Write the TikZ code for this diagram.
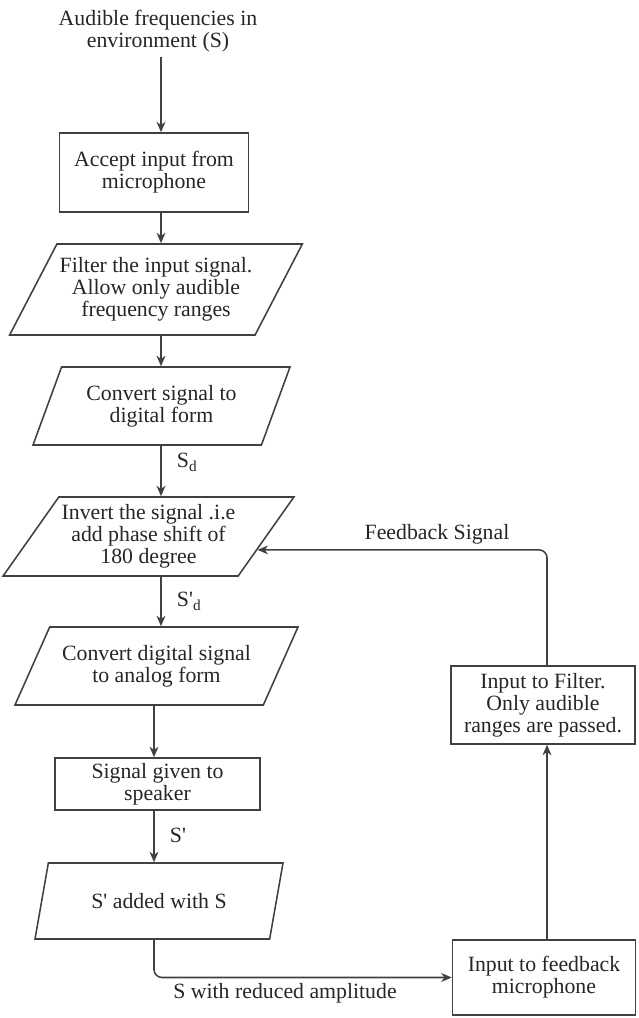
\documentclass[tikz,border=0pt]{standalone}
\usepackage{fontspec}
\setmainfont{Liberation Serif}
\usetikzlibrary{shapes.geometric,arrows.meta}

\begin{document}
\begin{tikzpicture}[x=0.025cm, y=-0.025cm,
  every node/.style={font=\fontsize{15.5}{15.6}\selectfont, text=black!85, align=center},
  flow/.style={draw=black!75, line width=1.1pt, rounded corners=8*0.025cm,
    -{Stealth[length=2.6mm, width=2.2mm, inset=0.8mm]}},
  procbox/.style={draw=black!75, line width=1.1pt, rectangle, inner sep=2pt},
  databox/.style={draw=black!75, line width=1.1pt, trapezium, trapezium stretches body=true, inner sep=2pt},
  sig/.style={anchor=west, inner sep=0pt, xshift=0.38cm}]
% pixel size of the picture
\def\px{0.025cm}
\useasboundingbox (0,0) rectangle (638,1018);

% main column
\node (env) at (158,31) {Audible frequencies in\\environment (S)};
\node[procbox, minimum width=189*\px, minimum height=79*\px] (accept) at (154,172.5) {Accept input from\\microphone};
\node[databox, trapezium left angle=55.7, trapezium right angle=124.3,
  minimum width=282*\px, minimum height=91*\px] (filter) at (156,289.5) {Filter the input signal.\\Allow only audible\\frequency ranges};
\node[databox, trapezium left angle=58.9, trapezium right angle=121.1,
  minimum width=257*\px, minimum height=78*\px] (digital) at (161.5,406) {Convert signal to\\digital form};
\node[databox, trapezium left angle=51.2, trapezium right angle=128.8,
  minimum width=283*\px, minimum height=79*\px] (invert) at (148.5,536.5) {Invert the signal .i.e\\add phase shift of\\180 degree};
\node[databox, trapezium left angle=53.8, trapezium right angle=126.2,
  minimum width=283*\px, minimum height=78*\px] (analog) at (156.5,666) {Convert digital signal\\to analog form};
\node[procbox, minimum width=205*\px, minimum height=52*\px] (speaker) at (157.5,784) {Signal given to\\speaker};
\node[databox, trapezium left angle=57.5, trapezium right angle=122.5,
  minimum width=248*\px, minimum height=76*\px] (added) at (159,901) {S\textquotesingle{} added with S};

% feedback loop
\node[procbox, minimum width=183*\px, minimum height=75*\px] (fbmic) at (544,977.5) {Input to feedback\\microphone};
\node[procbox, minimum width=184*\px, minimum height=78*\px] (fbfilter) at (543,705) {Input to Filter.\\Only audible\\ranges are passed.};

% arrow columns
\coordinate (colA) at (161,0);
\coordinate (colB) at (154,0);
\coordinate (colC) at (547,0);

\draw[flow] (colA |- env.south) -- (colA |- accept.north);
\draw[flow] (colA |- accept.south) -- (colA |- filter.north);
\draw[flow] (colA |- filter.south) -- (colA |- digital.north);
\draw[flow] (colA |- digital.south) -- node[sig, pos=0.33] {S\textsubscript{d}} (colA |- invert.north);
\draw[flow] (colA |- invert.south) -- node[sig, pos=0.5] {S\textquotesingle\textsubscript{d}} (colA |- analog.north);
\draw[flow] (colB |- analog.south) -- (colB |- speaker.north);
\draw[flow] (colB |- speaker.south) -- node[sig, pos=0.47] {S\textquotesingle} (colB |- added.north);
\draw[flow] (colB |- added.south) |- node[below, pos=0.72] {S with reduced amplitude} (fbmic.west);
\draw[flow] (colC |- fbmic.north) -- (colC |- fbfilter.south);
\draw[flow] (colC |- fbfilter.north) |- node[above, pos=0.69] {Feedback Signal} (invert.-7);
\end{tikzpicture}
\end{document}
